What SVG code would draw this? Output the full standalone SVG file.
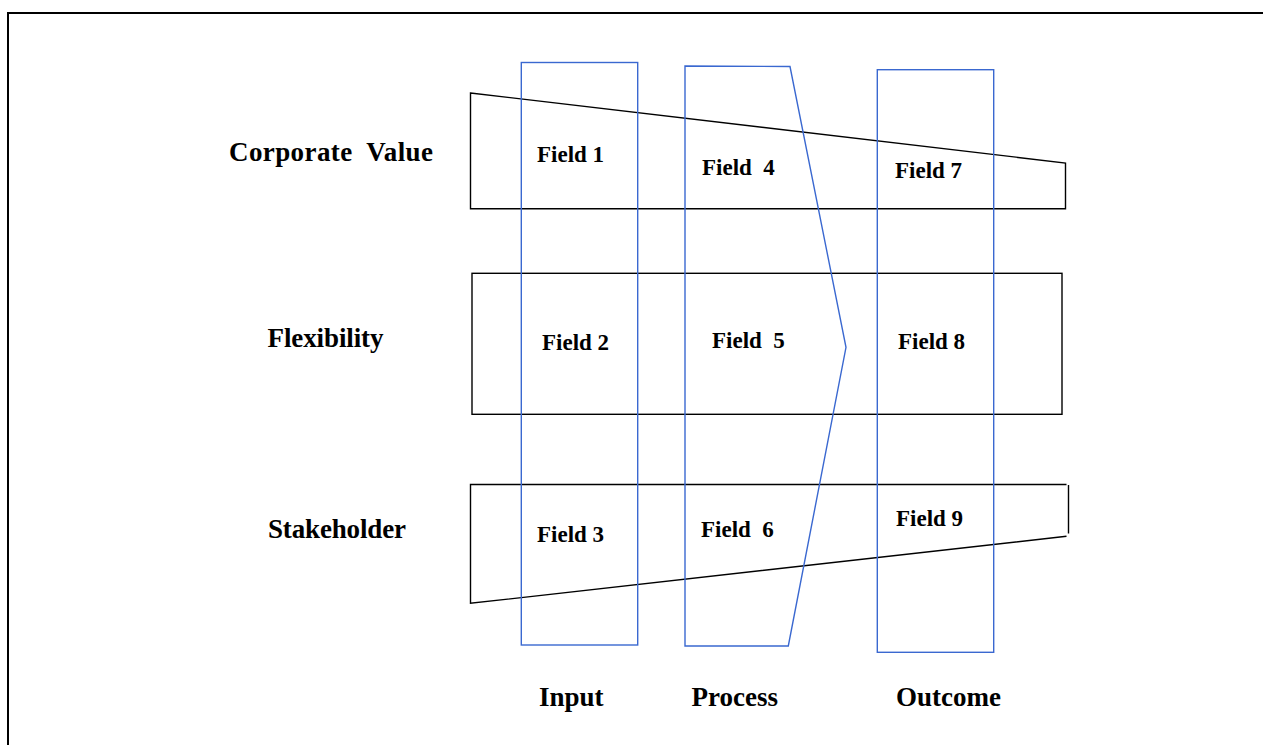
<svg xmlns="http://www.w3.org/2000/svg" width="1263" height="745" viewBox="0 0 1263 745">
  <style>
    .band { fill: none; stroke: #000; stroke-width: 1.4; stroke-linejoin: miter; }
    .col { fill: none; stroke: #3A68D0; stroke-width: 1.4; stroke-linejoin: miter; }
    .frame { fill: none; stroke: #000; stroke-width: 2; }
    text { font-family: "Liberation Serif", "Times New Roman", serif; font-weight: bold; fill: #000; }
    .lbl { font-size: 27px; }
    .fld { font-size: 23px; }
  </style>
  <rect width="1263" height="745" fill="#fff"/>

  <!-- outer frame, open to the right and bottom -->
  <path class="frame" d="M8,746 V13 H1264"/>

  <!-- row bands -->
  <g id="band-corporate-value">
    <polygon class="band" points="470.5,93 1065.5,163 1065.5,208.7 470.5,208.7"/>
    <text class="lbl" x="229" y="161" xml:space="preserve" textLength="204" lengthAdjust="spacing">Corporate  Value</text>
  </g>
  <g id="band-flexibility">
    <rect class="band" x="472" y="273.3" width="590" height="141"/>
    <text class="lbl" x="267.5" y="347" textLength="116" lengthAdjust="spacing">Flexibility</text>
  </g>
  <g id="band-stakeholder">
    <path class="band" d="M1066.5,484.5 H470.5 V603.3 L1066.5,536.3 M1068.5,485 V533.5"/>
    <text class="lbl" x="268" y="537.5" textLength="138" lengthAdjust="spacing">Stakeholder</text>
  </g>

  <!-- stage columns -->
  <g id="col-input">
    <rect class="col" x="521.3" y="62.5" width="116.4" height="582.5"/>
    <text class="lbl" x="539" y="706">Input</text>
  </g>
  <g id="col-process">
    <polygon class="col" points="685,66 790,66.5 846,347.3 788.3,646 685,646"/>
    <text class="lbl" x="691.5" y="706">Process</text>
  </g>
  <g id="col-outcome">
    <rect class="col" x="877.3" y="69.7" width="116.4" height="582.6"/>
    <text class="lbl" x="896" y="706">Outcome</text>
  </g>

  <!-- field cells -->
  <g id="field-1"><text class="fld" x="537" y="162">Field 1</text></g>
  <g id="field-2"><text class="fld" x="542" y="350">Field 2</text></g>
  <g id="field-3"><text class="fld" x="537" y="542">Field 3</text></g>
  <g id="field-4"><text class="fld" x="702" y="175" xml:space="preserve">Field  4</text></g>
  <g id="field-5"><text class="fld" x="712" y="348" xml:space="preserve">Field  5</text></g>
  <g id="field-6"><text class="fld" x="701" y="537" xml:space="preserve">Field  6</text></g>
  <g id="field-7"><text class="fld" x="895" y="178">Field 7</text></g>
  <g id="field-8"><text class="fld" x="898" y="349">Field 8</text></g>
  <g id="field-9"><text class="fld" x="896" y="526">Field 9</text></g>

  <!-- no connectors between cells -->
  <g id="connectors"/>
</svg>
